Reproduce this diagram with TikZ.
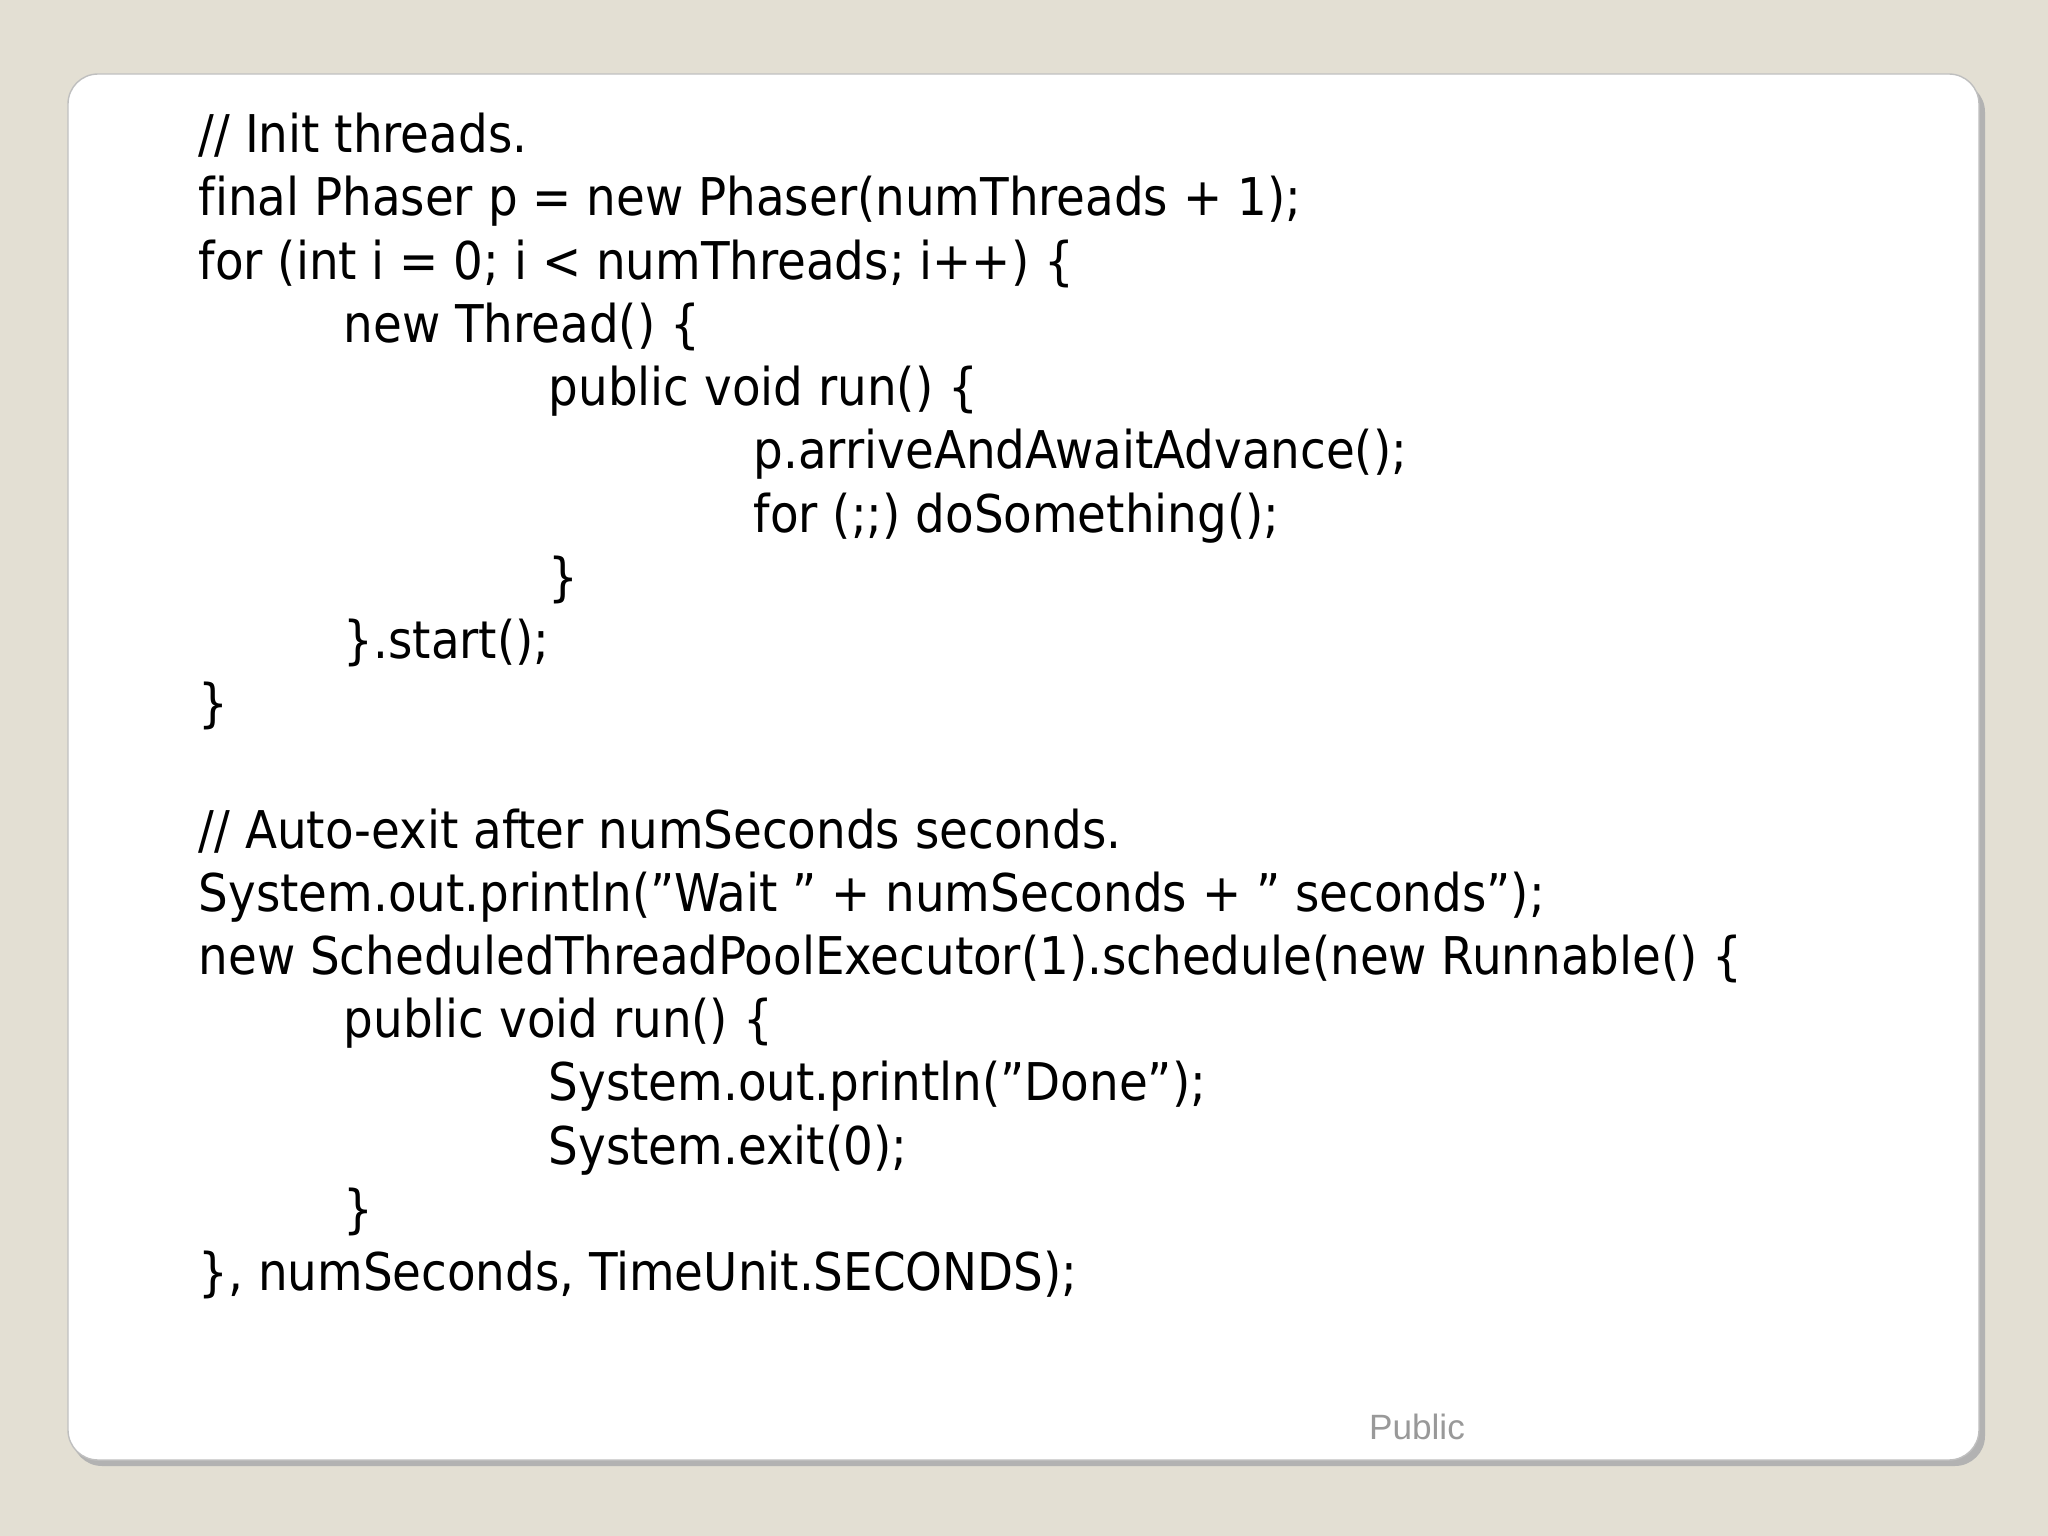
\documentclass[tikz,border=0pt]{standalone}
\usepackage{fontspec}
\setmainfont[Ligatures=NoCommon]{DejaVu Sans Condensed}
\newfontfamily\pubfont{Liberation Sans}
\definecolor{bg}{HTML}{E3DFD3}
\newcommand{\qq}{\char34\relax}
\begin{document}
\begin{tikzpicture}[x=1cm,y=1cm,
  code/.style={anchor=base west,inner sep=0pt,font=\fontsize{14.8}{18}\selectfont}]
\useasboundingbox (0,0) rectangle (20.48,-15.36);
\fill[bg] (0,0) rectangle (20.48,-15.36);
\fill[black!30,rounded corners=0.3cm] (0.72,-0.82) rectangle (19.85,-14.66);
\filldraw[fill=white,draw=black!25,rounded corners=0.3cm] (0.68,-0.74) rectangle (19.79,-14.6);
\def\Lx{1.98}\def\Lb{3.43}\def\Lc{5.48}\def\Ld{7.53}
\foreach \k/\x/\t [count=\i] in {
0/\Lx/{// Init threads.},
1/\Lx/{final Phaser p = new Phaser(numThreads + 1);},
2/\Lx/{for (int i = 0; i < numThreads; i++) \{},
3/\Lb/{new Thread() \{},
4/\Lc/{public void run() \{},
5/\Ld/{p.arriveAndAwaitAdvance();},
6/\Ld/{for (;;) doSomething();},
7/\Lc/{\}},
8/\Lb/{\}.start();},
9/\Lx/{\}},
11/\Lx/{// Auto-exit after numSeconds seconds.},
12/\Lx/{System.out.println(\qq Wait \qq{} + numSeconds + \qq{} seconds\qq);},
13/\Lx/{new ScheduledThreadPoolExecutor(1).schedule(new Runnable() \{},
14/\Lb/{public void run() \{},
15/\Lc/{System.out.println(\qq Done\qq);},
16/\Lc/{System.exit(0);},
17/\Lb/{\}},
18/\Lx/{\}, numSeconds, TimeUnit.SECONDS);}}
  \node[code] (l\i) at (\x,{-1.528-0.632*\k}) {\t};
\node[font=\pubfont\fontsize{10}{12}\selectfont,text=black!40] (pub) at (14.17,-14.27) {Public};
\end{tikzpicture}
\end{document}
